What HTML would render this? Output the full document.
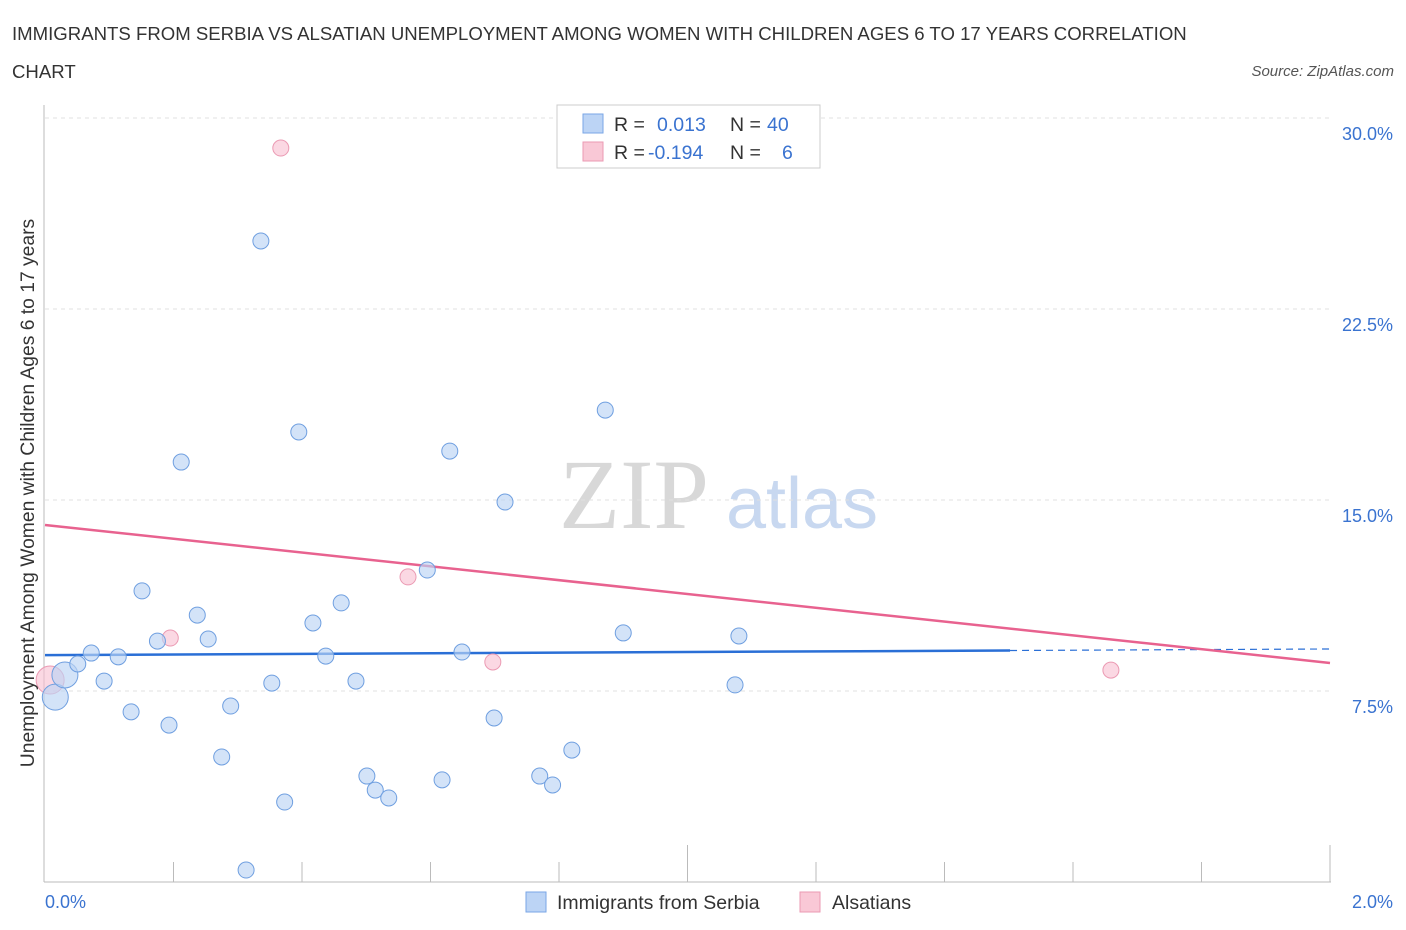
<!DOCTYPE html>
<html><head><meta charset="utf-8">
<style>
body{margin:0;background:#fff;width:1406px;height:930px;overflow:hidden;font-family:"Liberation Sans",sans-serif;}
svg{position:absolute;left:0;top:0}
</style></head>
<body>
<svg width="1406" height="930">
<text x="12" y="40" font-size="18.6" fill="#333">IMMIGRANTS FROM SERBIA VS ALSATIAN UNEMPLOYMENT AMONG WOMEN WITH CHILDREN AGES 6 TO 17 YEARS CORRELATION</text>
<text x="12" y="78" font-size="18.6" fill="#333">CHART</text>
<text x="1394" y="76" font-size="15" fill="#555" font-style="italic" text-anchor="end">Source: ZipAtlas.com</text>
<text x="634" y="528" font-size="100" fill="#d8d8d8" font-family="Liberation Serif,serif" text-anchor="middle">ZIP</text>
<text x="802" y="528" font-size="72" fill="#c8d8f0" text-anchor="middle">atlas</text>
<g id="grid"></g>
<g id="axes"></g>
<g id="lines"></g>
<g id="pts"></g>
<text transform="translate(34,493) rotate(-90)" font-size="19.3" fill="#333" text-anchor="middle">Unemployment Among Women with Children Ages 6 to 17 years</text>
<g>
<rect x="557" y="105" width="263" height="63" fill="#fff" stroke="#ccc"/>
<rect x="583" y="114" width="20" height="19" fill="#bcd4f5" stroke="#7aa6e6"/>
<rect x="583" y="142" width="20" height="19" fill="#f9c8d6" stroke="#eb9ab3"/>
<text x="614" y="131" font-size="19.5" fill="#333">R = </text><text x="657" y="131" font-size="19.5" fill="#3a73d0">0.013</text>
<text x="730" y="131" font-size="19.5" fill="#333">N = </text><text x="767" y="131" font-size="19.5" fill="#3a73d0">40</text>
<text x="614" y="159" font-size="19.5" fill="#333">R = </text><text x="648" y="159" font-size="19.5" fill="#3a73d0">-0.194</text>
<text x="730" y="159" font-size="19.5" fill="#333">N = </text><text x="782" y="159" font-size="19.5" fill="#3a73d0">6</text>
</g>
<g>
<rect x="526" y="892" width="20" height="20" fill="#bcd4f5" stroke="#7aa6e6"/>
<text x="557" y="909" font-size="19.5" fill="#333">Immigrants from Serbia</text>
<rect x="800" y="892" width="20" height="20" fill="#f9c8d6" stroke="#eb9ab3"/>
<text x="832" y="909" font-size="19.5" fill="#333">Alsatians</text>
</g>
</svg>
<script>
const yTicks=[7.5,15,22.5,30];
const yTickLabels=["7.5%","15.0%","22.5%","30.0%"];
const blueX=[0.016,0.031,0.051,0.072,0.092,0.114,0.134,0.151,0.175,0.193,0.212,0.237,0.254,0.275,0.289,0.313,0.336,0.353,0.373,0.395,0.417,0.437,0.461,0.484,0.501,0.514,0.535,0.595,0.618,0.630,0.649,0.699,0.716,0.770,0.790,0.820,0.872,0.900,1.074,1.080];
const blueY=[7.26,8.13,8.56,8.99,7.89,8.84,6.68,11.43,9.46,6.16,16.49,10.48,9.54,4.91,6.91,0.47,25.17,7.81,3.14,17.67,10.17,8.87,10.96,7.89,4.16,3.61,3.30,12.25,4.01,16.92,9.03,6.44,14.92,4.16,3.81,5.18,18.53,9.78,7.74,9.66];
const blueSize=[3,3,1,1,1,1,1,1,1,1,1,1,1,1,1,1,1,1,1,1,1,1,1,1,1,1,1,1,1,1,1,1,1,1,1,1,1,1,1,1];
const pinkX=[0.008,0.195,0.367,0.565,0.697,1.659];
const pinkY=[7.93,9.58,28.82,11.98,8.64,8.32];
const pinkSize=[3,1,1,1,1,1];
const blueTrend=[8.91,9.15];
const pinkTrend=[14.02,8.6];
const NS="http://www.w3.org/2000/svg";
const X=v=>45+v/2*1285, Y=v=>882-v/7.5*191;
function mk(tag,at,parent){const e=document.createElementNS(NS,tag);for(const k in at)e.setAttribute(k,at[k]);document.getElementById(parent).appendChild(e);return e;}
yTicks.forEach((t,i)=>{
 const g=mk('line',{x1:45,x2:1330,y1:Y(t),y2:Y(t),stroke:'#e0e0e0','stroke-dasharray':'4,4'},'grid');
 
 
 const l=mk('text',{x:1393,y:Y(t)+22,'font-size':18,fill:'#3a73d0','text-anchor':'end'},'axes');
 l.textContent=yTickLabels[i];
 
 
});
let a=mk('line',{x1:44,x2:44,y1:105,y2:882,stroke:'#bbb'},'axes');


a=mk('line',{x1:44,x2:1331,y1:882,y2:882,stroke:'#bbb'},'axes');


for(let i=1;i<=10;i++){const xv=i*0.2;const t=mk('line',{x1:X(xv),x2:X(xv),y1:(i==5||i==10)?845:862,y2:882,stroke:'#bbb'},'axes');
 
 }
let xl=mk('text',{x:45,y:908,'font-size':18,fill:'#3a73d0'},'axes');xl.textContent='0.0%';


xl=mk('text',{x:1393,y:908,'font-size':18,fill:'#3a73d0','text-anchor':'end'},'axes');xl.textContent='2.0%';


const bAt=x=>blueTrend[0]+(blueTrend[1]-blueTrend[0])*x/2;
let ln=mk('line',{x1:X(0),y1:Y(bAt(0)),x2:X(1.502),y2:Y(bAt(1.502)),stroke:'#2a6fd6','stroke-width':2.5},'lines');


ln=mk('line',{x1:X(1.502),y1:Y(bAt(1.502)),x2:X(2),y2:Y(bAt(2)),stroke:'#2a6fd6','stroke-width':1.2,'stroke-dasharray':'7,5'},'lines');


ln=mk('line',{x1:X(0),y1:Y(pinkTrend[0]),x2:X(2),y2:Y(pinkTrend[1]),stroke:'#e8628f','stroke-width':2.5},'lines');


pinkX.forEach((x,i)=>{const c=mk('circle',{cx:X(x),cy:Y(pinkY[i]),r:pinkSize[i]>1?14:8,fill:'rgba(249,190,208,0.6)',stroke:'#eb9ab3','stroke-width':1},'pts');
 
 });
blueX.forEach((x,i)=>{const c=mk('circle',{cx:X(x),cy:Y(blueY[i]),r:blueSize[i]>1?13:8,fill:'rgba(188,212,245,0.65)',stroke:'#6f9fe0','stroke-width':1},'pts');
 
 });
</script>
</body></html>
